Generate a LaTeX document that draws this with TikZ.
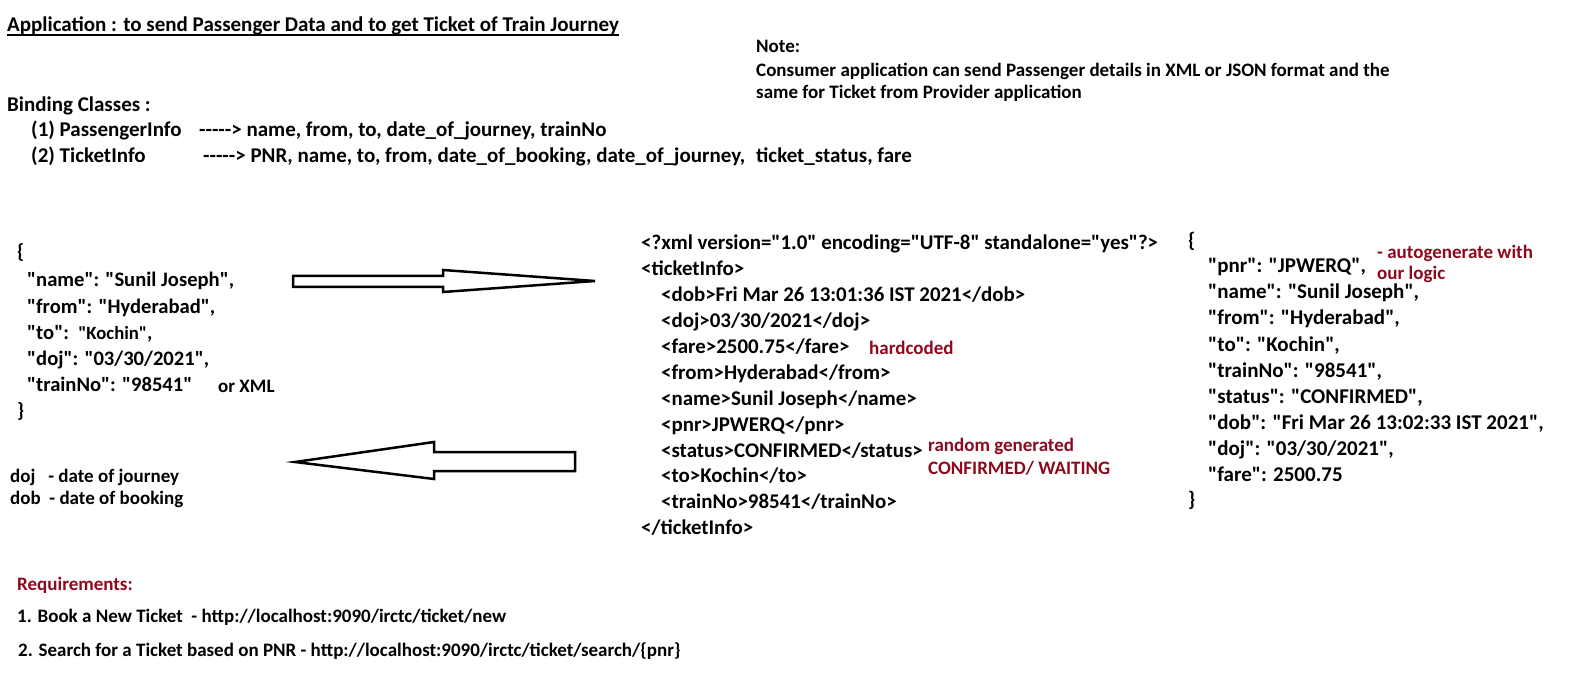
\documentclass[tikz,border=0pt]{standalone}
\usepackage{fontspec}
\setmainfont{Carlito}[Ligatures=TeXOff]
\definecolor{notered}{RGB}{140,10,30}

\begin{document}
\begin{tikzpicture}[x=1pt,y=-1pt,
        txt/.style={anchor=base west,inner sep=0pt,font=\bfseries\fontsize{21}{25}\selectfont},
        small/.style={txt,font=\bfseries\fontsize{19}{23}\selectfont},
        json/.style={txt,font=\bfseries\fontsize{20.6}{25}\selectfont},
        xml/.style={txt,font=\bfseries\fontsize{20.9}{25}\selectfont},
        remark/.style={txt,text=notered,font=\bfseries\fontsize{19}{23}\selectfont},
        blockarrow/.style={draw,line width=2.5pt,line join=miter,fill=white}]
    \useasboundingbox (0,0) rectangle (1589,700);

    % heading and binding classes
    \node (title) [txt] at (7,32) {Application : to send Passenger Data and to get Ticket of Train Journey};
    \draw[line width=1.6pt] ([yshift=-3pt]title.base west) -- ([yshift=-3pt]title.base east);
    \node (note) [small] at (756,53) {Note:};
    \node (note1) [small] at (756,77) {Consumer application can send Passenger details in XML or JSON format and the};
    \node (note2) [small] at (756,99) {same for Ticket from Provider application};
    \node (binding) [txt] at (7,112) {Binding Classes :};
    \node (pinfo) [txt] at (31,137) {(1) PassengerInfo};
    \node (pfields) [txt] at (199,137) {-----> name, from, to, date\_of\_journey, trainNo};
    \node (tinfo) [txt] at (31,163) {(2) TicketInfo};
    \node (tfields) [txt] at (203,163) {-----> PNR, name, to, from, date\_of\_booking, date\_of\_journey,};
    \node (tfields2) [txt] at (756,163) {ticket\_status, fare};

    % passenger request
    \node (popen) [json] at (17,259) {\{};
    \node (pname) [json] at (27,287) {"name": "Sunil Joseph",};
    \node (pfrom) [json] at (27,313) {"from": "Hyderabad",};
    \node (pto) [json] at (27,339) {"to":\ \ {\fontsize{18.7}{22}\selectfont"Kochin"},};
    \node (pdoj) [json] at (27,365) {"doj": "03/30/2021",};
    \node (ptrain) [json] at (27,391) {"trainNo": "98541"};
    \node (orxml) [small] at (218,392) {or XML};
    \node (pclose) [json] at (17,417) {\}};
    \node (dojkey) [small] at (10,482) {doj\ \ \ - date of journey};
    \node (dobkey) [small] at (10,504) {dob\ \ - date of booking};

    % block arrows
    \draw[blockarrow] (293,276) -- (443,276) -- (443,270) -- (595,281)
        -- (443,292) -- (443,287) -- (293,287) -- cycle;
    \draw[blockarrow] (575,452) -- (434,452) -- (434,442) -- (295,462)
        -- (434,479) -- (434,471) -- (575,471) -- cycle;

    % ticket as xml
    \node (xhead) [xml] at (641,250) {<?xml version="1.0" encoding="UTF-8" standalone="yes"?>};
    \node (xopen) [xml] at (641,276) {<ticketInfo>};
    \node (xdob) [xml] at (661,302) {<dob>Fri Mar 26 13:01:36 IST 2021</dob>};
    \node (xdoj) [xml] at (661,327) {<doj>03/30/2021</doj>};
    \node (xfare) [xml] at (661,353) {<fare>2500.75</fare>};
    \node (xfrom) [xml] at (661,379) {<from>Hyderabad</from>};
    \node (xname) [xml] at (661,405) {<name>Sunil Joseph</name>};
    \node (xpnr) [xml] at (661,431) {<pnr>JPWERQ</pnr>};
    \node (xstatus) [xml] at (661,457) {<status>CONFIRMED</status>};
    \node (xto) [xml] at (661,482) {<to>Kochin</to>};
    \node (xtrain) [xml] at (661,508) {<trainNo>98541</trainNo>};
    \node (xclose) [xml] at (641,534) {</ticketInfo>};
    \node (hardcoded) [remark] at (869,354) {hardcoded};
    \node (random) [remark] at (928,451) {random generated};
    \node (random2) [remark] at (928,474) {CONFIRMED/ WAITING};

    % ticket as json
    \node (topen) [txt] at (1188,248) {\{};
    \node (tpnr) [txt] at (1208,273) {"pnr": "JPWERQ",};
    \node (tname) [txt] at (1208,299) {"name": "Sunil Joseph",};
    \node (tfrom) [txt] at (1208,325) {"from": "Hyderabad",};
    \node (tto) [txt] at (1208,351) {"to": "Kochin",};
    \node (ttrain) [txt] at (1208,377) {"trainNo": "98541",};
    \node (tstatus) [txt] at (1208,403) {"status": "CONFIRMED",};
    \node (tdob) [txt] at (1208,429) {"dob": "Fri Mar 26 13:02:33 IST 2021",};
    \node (tdoj) [txt] at (1208,455) {"doj": "03/30/2021",};
    \node (tfare) [txt] at (1208,481) {"fare": 2500.75};
    \node (tclose) [txt] at (1188,506) {\}};
    \node (auto) [remark] at (1377,259) {- autogenerate with};
    \node (auto2) [remark] at (1377,280) {our logic};

    % requirements
    \node (req) [remark] at (17,590) {Requirements:};
    \node (req1) [small] at (17,622) {1. Book a New Ticket\ \ - http://localhost:9090/irctc/ticket/new};
    \node (req2) [small] at (18,656) {2. Search for a Ticket based on PNR - http://localhost:9090/irctc/ticket/search/\{pnr\}};
\end{tikzpicture}
\end{document}
